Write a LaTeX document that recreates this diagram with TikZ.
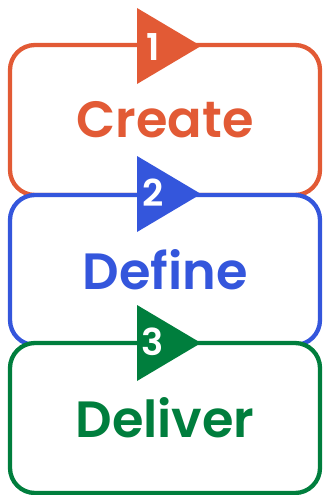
\documentclass[tikz,border=0pt]{standalone}
\usepackage{fontspec}
\setmainfont{Poppins}
\newfontfamily\semi{Poppins SemiBold}
\definecolor{corange}{HTML}{E25A35}
\definecolor{cblue}{HTML}{3456DC}
\definecolor{cgreen}{HTML}{007E3D}
\begin{document}
\begin{tikzpicture}[x=1pt,y=-1pt,
  box/.style={draw=#1, line width=4.3pt, rounded corners=25pt, fill=white,
    minimum width=310pt, minimum height=150pt, inner sep=0pt, outer sep=0pt,
    text=#1, font=\fontsize{51}{60}\selectfont\semi},
  num/.style={text=white, font=\fontsize{37}{40}\selectfont\semi, inner sep=0pt}]
\useasboundingbox (0,0) rectangle (325,495);
\node[box=corange] (b1) at (165,120) {Create};
\fill[corange] (137,8) -- (137,84) -- (201,46) -- cycle;
\node[num] (n1) at (153,47) {1};
\node[box=cblue] (b2) at (165,270) {Define};
\fill[cblue] (137,156) -- (137,232) -- (201,194) -- cycle;
\node[num] (n2) at (153,193) {2};
\node[box=cgreen] (b3) at (165,418) {Deliver};
\fill[cgreen] (137,305) -- (137,381) -- (201,343) -- cycle;
\node[num] (n3) at (153,342) {3};
\end{tikzpicture}
\end{document}
